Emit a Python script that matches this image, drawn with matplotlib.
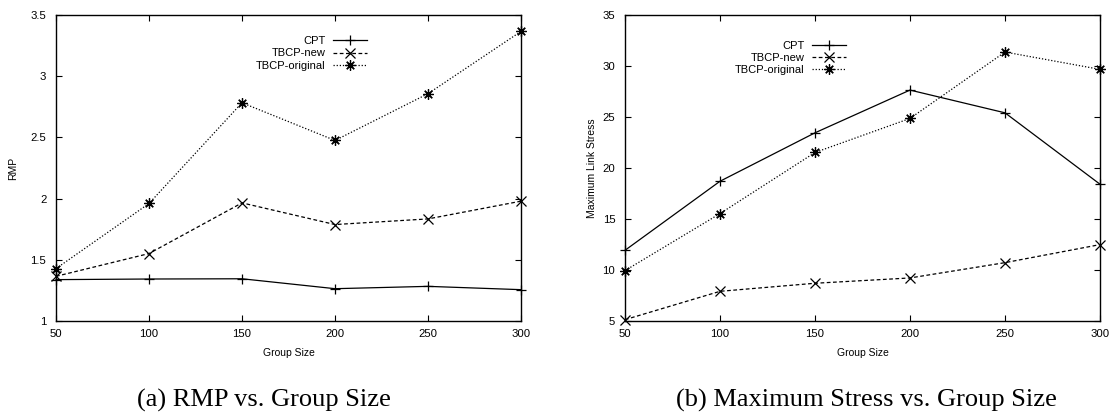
import matplotlib
matplotlib.use("Agg")
import matplotlib.pyplot as plt

group_size = [50, 100, 150, 200, 250, 300]
series_names = ["CPT", "TBCP-new", "TBCP-original"]

rmp_cpt = [1.338, 1.343, 1.345, 1.264, 1.283, 1.256]
rmp_tbcp_new = [1.365, 1.551, 1.965, 1.788, 1.834, 1.979]
rmp_tbcp_orig = [1.428, 1.960, 2.783, 2.475, 2.857, 3.366]

stress_cpt = [11.93, 18.70, 23.45, 27.64, 25.41, 18.41]
stress_tbcp_new = [5.13, 7.91, 8.70, 9.22, 10.72, 12.49]
stress_tbcp_orig = [9.94, 15.53, 21.52, 24.86, 31.37, 29.67]

captions = ["(a) RMP vs. Group Size", "(b) Maximum Stress vs. Group Size"]
ylabels = ["RMP", "Maximum Link Stress"]
xlabel = "Group Size"
rmp_ticks = [1, 1.5, 2, 2.5, 3, 3.5]
stress_ticks = [5, 10, 15, 20, 25, 30, 35]

plt.rcParams['font.family'] = ['Liberation Sans', 'DejaVu Sans']

W, H = 1112, 412
fig = plt.figure(figsize=(W / 100, H / 100), dpi=100)

def px_axes(x0, x1, y0, y1):
    return fig.add_axes([x0 / W, 1 - y1 / H, (x1 - x0) / W, (y1 - y0) / H])

ax1 = px_axes(56, 521, 15, 321)
ax2 = px_axes(625, 1100, 15, 321)

styles = [
    dict(linestyle='-', marker='+', markersize=7.5, mew=0.9),
    dict(linestyle=(0, (3, 2)), marker='x', markersize=6.5, mew=0.9),
    dict(linestyle=(0, (1, 1.5)), marker=(8, 2, 0), markersize=7.5, mew=0.9),
]

data = [
    (ax1, [rmp_cpt, rmp_tbcp_new, rmp_tbcp_orig], (1, 3.5), rmp_ticks,
     ['1', '1.5', '2', '2.5', '3', '3.5'], (0.678, 0.945), 9, 264),
    (ax2, [stress_cpt, stress_tbcp_new, stress_tbcp_orig], (5, 35), stress_ticks,
     [str(t) for t in stress_ticks], (0.474, 0.93), 4, 866),
]

for i, (ax, ser, ylim, yt, ytl, legpos, ylpad, capx) in enumerate(data):
    for name, vals, st in zip(series_names, ser, styles):
        ax.plot(group_size, vals, color='black', lw=0.9, label=name, clip_on=False, **st)
    ax.set_xlim(50, 300)
    ax.set_ylim(*ylim)
    ax.set_xticks(group_size)
    ax.set_yticks(yt)
    ax.set_yticklabels(ytl)
    ax.tick_params(direction='in', top=True, right=True, length=4, width=0.8,
                   labelsize=8.2, colors='black')
    ax.tick_params(axis='x', pad=6)
    ax.tick_params(axis='y', pad=7)
    for s in ax.spines.values():
        s.set_linewidth(1.0)
    ax.set_xlabel(xlabel, fontsize=7.5, labelpad=6)
    ax.set_ylabel(ylabels[i], fontsize=7.5, labelpad=ylpad)
    leg = ax.legend(loc='upper right', bbox_to_anchor=legpos, frameon=False,
                    markerfirst=False, fontsize=8, handlelength=3.0,
                    handletextpad=0.7, labelspacing=0.2, borderaxespad=0)
    fig.text(capx / W, 1 - 400 / H, captions[i], ha='center', va='center',
             fontsize=19, family=['Liberation Serif', 'DejaVu Serif'])

fig.savefig("out.png", dpi=100)
